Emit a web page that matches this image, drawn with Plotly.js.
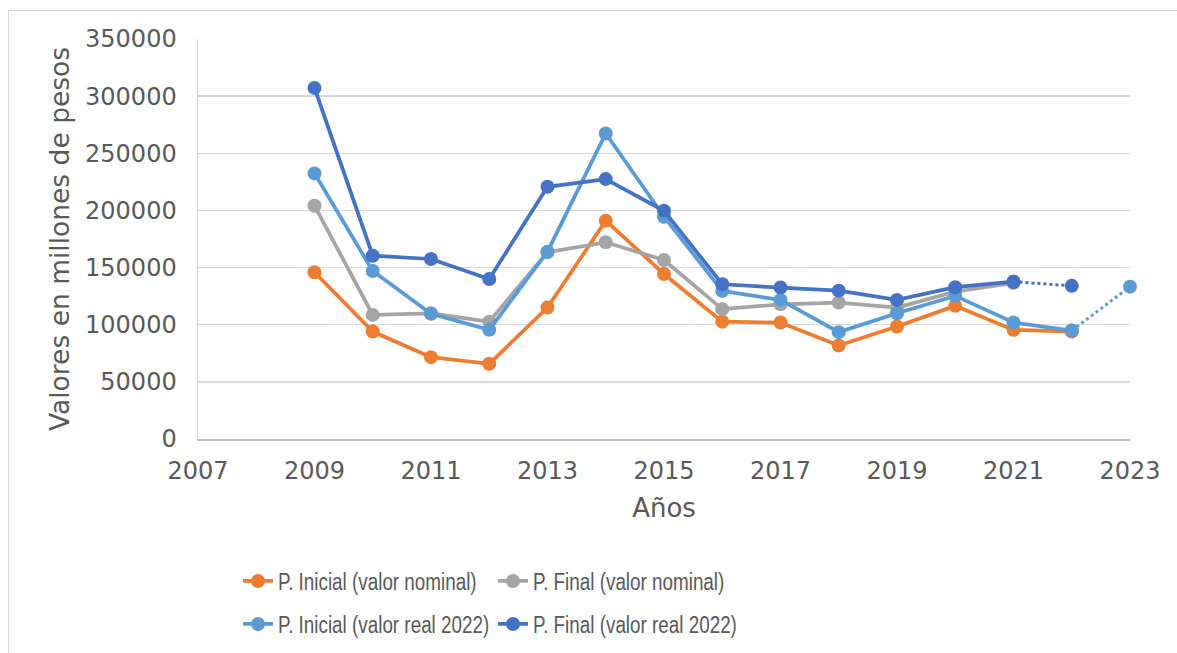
<!DOCTYPE html>
<html>
<head>
<meta charset="utf-8">
<script src="https://cdn.plot.ly/plotly-3.0.1.min.js"></script>
<style>
  html, body { margin: 0; padding: 0; background: #ffffff; }
  #chart { width: 1177px; height: 653px; }
</style>
</head>
<body>
<div id="chart"></div>
<script>
// ---- Data ----
const years = [2009, 2010, 2011, 2012, 2013, 2014, 2015, 2016, 2017, 2018, 2019, 2020, 2021, 2022];
const inicialNominal = [145900, 94000, 71600, 65800, 115000, 191000, 144400, 102700, 101900, 81800, 98400, 116500, 95500, 94000];
const finalNominal   = [204100, 108600, 110000, 102700, 163500, 172100, 156600, 113600, 117900, 119400, 115000, 129000, 136500];
const inicialReal    = [232400, 147000, 109500, 95500, 163900, 267300, 194500, 129600, 121700, 93500, 110000, 125200, 101900, 94900];
const finalReal      = [307200, 160400, 157500, 140000, 220700, 227400, 199700, 135400, 132500, 129800, 121700, 132800, 137700];
// projected (dotted) points
const finalRealProjYears = [2021, 2022];
const finalRealProj      = [137700, 134000];
const inicialRealProjYears = [2022, 2023];
const inicialRealProj      = [94900, 133300];

const seriesNames = [
  'P. Inicial (valor nominal)',
  'P. Final (valor nominal)',
  'P. Inicial (valor real 2022)',
  'P. Final (valor real 2022)'
];
const colors = ['#ED7D31', '#A5A5A5', '#5B9BD5', '#4472C4'];

const FONT = 'DejaVu Sans, sans-serif';
const LEGFONT = '"Liberation Sans", Arial, sans-serif';
const TXT = '#595959';
const LW = 3.75, MS = 14;
const LEG_SCALE = 0.82;

function mainTrace(x, y, i, legendId) {
  return {
    x: x.slice(0, y.length), y: y, type: 'scatter', mode: 'lines+markers',
    name: seriesNames[i], legend: legendId, cliponaxis: false,
    line: { color: colors[i], width: LW },
    marker: { color: colors[i], size: MS, symbol: 'circle' }
  };
}
function projTrace(x, y, i) {
  return {
    x: x, y: y, type: 'scatter', mode: 'lines+markers',
    showlegend: false, cliponaxis: false,
    line: { color: colors[i], width: 3, dash: 'dot' },
    marker: { color: colors[i], size: MS, symbol: 'circle' }
  };
}
const traces = [
  mainTrace(years, inicialNominal, 0, 'legend'),
  mainTrace(years, finalNominal, 1, 'legend'),
  projTrace(inicialRealProjYears, inicialRealProj, 2),
  mainTrace(years, inicialReal, 2, 'legend2'),
  projTrace(finalRealProjYears, finalRealProj, 3),
  mainTrace(years, finalReal, 3, 'legend2')
];

const W = 1177, H = 653;
const PL = 198, PR = 1130, PT = 39, PB = 439;
const pw = PR - PL, ph = PB - PT;
function px2x(px) { return (px - PL) / pw; }
function py2y(py) { return (PB - py) / ph; }

function legendCfg(x, y) {
  return {
    orientation: 'h', xanchor: 'left', yanchor: 'middle',
    xref: 'container', yref: 'container', x: x, y: y,
    font: { family: LEGFONT, size: 23, color: TXT },
    bgcolor: 'rgba(0,0,0,0)', borderwidth: 0,
    entrywidth: 210, entrywidthmode: 'pixels',
    traceorder: 'normal', itemwidth: 30
  };
}

const layout = {
  width: W, height: H,
  margin: { l: PL, r: W - PR, t: PT, b: H - PB, pad: 0 },
  paper_bgcolor: '#ffffff', plot_bgcolor: '#ffffff',
  font: { family: FONT, color: TXT, size: 24 },
  showlegend: true,
  xaxis: {
    range: [2007, 2023], tickmode: 'linear', tick0: 2007, dtick: 2,
    showgrid: false, zeroline: false, automargin: false,
    showline: true, linecolor: '#BFBFBF', linewidth: 1.5,
    ticks: '', tickfont: { family: FONT, size: 24, color: TXT },
    ticklabelstandoff: 10,
    title: { text: 'Años', font: { family: FONT, size: 26, color: TXT }, standoff: 14 }
  },
  yaxis: {
    range: [0, 350000], tickmode: 'linear', tick0: 0, dtick: 50000,
    tickformat: 'd', automargin: false,
    showgrid: true, gridcolor: '#D9D9D9', gridwidth: 1.5,
    zeroline: false,
    showline: true, linecolor: '#D9D9D9', linewidth: 1.5,
    ticks: '', tickfont: { family: FONT, size: 24, color: TXT },
    ticklabelstandoff: 15,
    title: { text: 'Valores en millones de pesos', font: { family: FONT, size: 26.5, color: TXT }, standoff: 8 }
  },
  legend: legendCfg(238 / W, 1 - 581 / H),
  legend2: legendCfg(238 / W, 1 - 624 / H),
  shapes: [{
    type: 'rect', xref: 'paper', yref: 'paper',
    x0: px2x(8.5), x1: px2x(1190), y0: py2y(670), y1: py2y(10.5),
    line: { color: '#D9D9D9', width: 1 }, fillcolor: 'rgba(0,0,0,0)', layer: 'below'
  }]
};

// narrow the legend lettering horizontally, like the reference's condensed legend text
function condenseLegend() {
  document.querySelectorAll('#chart text').forEach(function (t) {
    if (seriesNames.indexOf(t.textContent) === -1) return;
    const x = parseFloat(t.getAttribute('x')) || 0;
    t.setAttribute('transform', 'translate(' + (x * (1 - LEG_SCALE)) + ',0) scale(' + LEG_SCALE + ',1)');
  });
}

const gd = document.getElementById('chart');
Plotly.newPlot(gd, traces, layout, { displayModeBar: false, staticPlot: true }).then(function () {
  condenseLegend();
  gd.on('plotly_afterplot', condenseLegend);
  setTimeout(condenseLegend, 50);
  setTimeout(condenseLegend, 300);
});
</script>
</body>
</html>
